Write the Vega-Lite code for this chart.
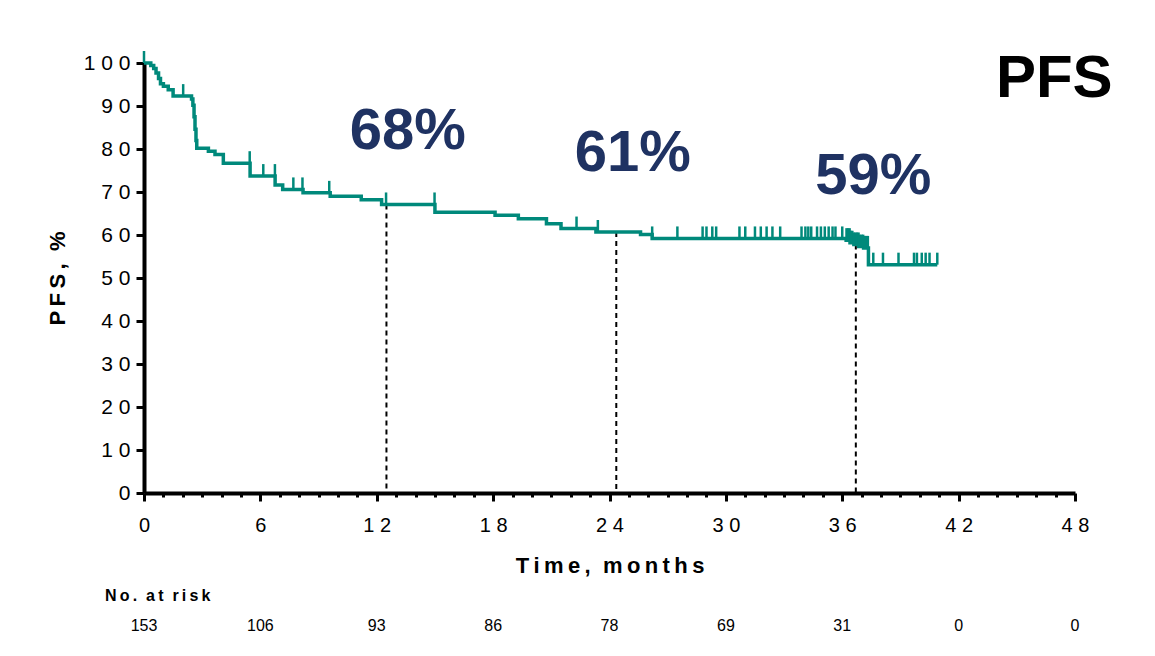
{
  "$schema": "https://vega.github.io/schema/vega-lite/v6.json",
  "background": "white",
  "padding": {"left": 46, "top": 46, "right": 0, "bottom": 0},
  "autosize": {"type": "pad"},
  "spacing": 12,
  "config": {
    "font": "Liberation Sans",
    "view": {"stroke": null},
    "axis": {"grid": false, "labelFont": "Liberation Sans", "titleFont": "Liberation Sans", "labelColor": "black", "titleColor": "black", "domainColor": "black", "tickColor": "black"}
  },
  "datasets": {
    "km": [
      {"t": 0, "s": 100}, {"t": 0.35, "s": 99.4}, {"t": 0.5, "s": 98.7}, {"t": 0.62, "s": 97.7},
      {"t": 0.75, "s": 96.4}, {"t": 0.85, "s": 95.2}, {"t": 1.0, "s": 94.6}, {"t": 1.25, "s": 93.8},
      {"t": 1.5, "s": 92.3}, {"t": 2.45, "s": 91.6}, {"t": 2.52, "s": 90.2}, {"t": 2.58, "s": 87.5},
      {"t": 2.63, "s": 84.6}, {"t": 2.68, "s": 82.0}, {"t": 2.72, "s": 80.2}, {"t": 3.32, "s": 79.5},
      {"t": 3.66, "s": 78.7}, {"t": 4.09, "s": 76.7}, {"t": 5.47, "s": 73.7}, {"t": 6.76, "s": 71.6},
      {"t": 7.15, "s": 70.6}, {"t": 8.2, "s": 69.8}, {"t": 9.6, "s": 69.0}, {"t": 11.2, "s": 68.2},
      {"t": 12.25, "s": 67.1}, {"t": 15.0, "s": 65.3}, {"t": 18.1, "s": 64.6}, {"t": 19.3, "s": 63.8},
      {"t": 20.75, "s": 62.6}, {"t": 21.5, "s": 61.5}, {"t": 23.3, "s": 60.7}, {"t": 25.6, "s": 60.1},
      {"t": 26.2, "s": 59.2}, {"t": 36.2, "s": 58.8}, {"t": 36.4, "s": 58.2}, {"t": 36.6, "s": 57.8},
      {"t": 36.85, "s": 57.3}, {"t": 37.1, "s": 57.0}, {"t": 37.35, "s": 53.1}, {"t": 40.9, "s": 53.1}
    ],
    "cens": [
      {"t": 0, "s": 100}, {"t": 2.02, "s": 92.3}, {"t": 5.45, "s": 76.7}, {"t": 6.15, "s": 73.7},
      {"t": 6.75, "s": 73.7}, {"t": 7.7, "s": 70.6}, {"t": 8.17, "s": 70.6}, {"t": 9.55, "s": 69.8},
      {"t": 12.48, "s": 67.1}, {"t": 14.98, "s": 67.1}, {"t": 22.3, "s": 61.5}, {"t": 23.4, "s": 60.7},
      {"t": 26.2, "s": 59.2}, {"t": 27.5, "s": 59.2}, {"t": 28.8, "s": 59.2}, {"t": 29.0, "s": 59.2},
      {"t": 29.3, "s": 59.2}, {"t": 29.5, "s": 59.2}, {"t": 30.7, "s": 59.2}, {"t": 31.0, "s": 59.2},
      {"t": 31.5, "s": 59.2}, {"t": 31.8, "s": 59.2}, {"t": 32.1, "s": 59.2}, {"t": 32.4, "s": 59.2},
      {"t": 32.8, "s": 59.2}, {"t": 33.9, "s": 59.2}, {"t": 34.1, "s": 59.2}, {"t": 34.25, "s": 59.2},
      {"t": 34.4, "s": 59.2}, {"t": 34.7, "s": 59.2}, {"t": 34.9, "s": 59.2}, {"t": 35.1, "s": 59.2},
      {"t": 35.3, "s": 59.2}, {"t": 35.5, "s": 59.2}, {"t": 35.65, "s": 59.2}, {"t": 36.0, "s": 59.2},
      {"t": 36.22, "s": 58.8}, {"t": 36.3, "s": 58.8}, {"t": 36.38, "s": 58.8}, {"t": 36.45, "s": 58.2},
      {"t": 36.52, "s": 58.2}, {"t": 36.6, "s": 57.8}, {"t": 36.68, "s": 57.8}, {"t": 36.76, "s": 57.8},
      {"t": 36.84, "s": 57.8}, {"t": 36.92, "s": 57.3}, {"t": 37.0, "s": 57.3}, {"t": 37.08, "s": 57.3},
      {"t": 37.16, "s": 57.0}, {"t": 37.24, "s": 57.0}, {"t": 37.32, "s": 57.0},
      {"t": 37.6, "s": 53.1}, {"t": 38.1, "s": 53.1}, {"t": 38.9, "s": 53.1}, {"t": 39.7, "s": 53.1},
      {"t": 39.85, "s": 53.1}, {"t": 40.1, "s": 53.1}, {"t": 40.3, "s": 53.1}, {"t": 40.5, "s": 53.1},
      {"t": 40.9, "s": 53.1}
    ],
    "dash": [
      {"t": 12.5, "s": 67.1}, {"t": 24.35, "s": 60.7}, {"t": 36.7, "s": 57.8}
    ],
    "ann": [
      {"t": 13.6, "s": 84.0, "label": "68%"},
      {"t": 25.2, "s": 78.8, "label": "61%"},
      {"t": 37.6, "s": 73.6, "label": "59%"}
    ],
    "risk": [
      {"t": 0, "n": 153}, {"t": 6, "n": 106}, {"t": 12, "n": 93}, {"t": 18, "n": 86}, {"t": 24, "n": 78},
      {"t": 30, "n": 69}, {"t": 36, "n": 31}, {"t": 42, "n": 0}, {"t": 48, "n": 0}
    ]
  },
  "vconcat": [
    {
      "width": 931,
      "height": 430,
      "layer": [
        {
          "data": {"name": "dash"},
          "mark": {"type": "rule", "color": "black", "strokeWidth": 2, "strokeDash": [5, 4]},
          "encoding": {
            "x": {"field": "t", "type": "quantitative"},
            "y": {"field": "s", "type": "quantitative"},
            "y2": {"datum": 0}
          }
        },
        {
          "data": {"name": "km"},
          "mark": {"type": "line", "interpolate": "step-after", "color": "#00897b", "strokeWidth": 3.5, "clip": false},
          "encoding": {
            "x": {
              "field": "t", "type": "quantitative",
              "scale": {"domain": [0, 48], "nice": false, "zero": false},
              "axis": {
                "values": [0,1,2,3,4,5,6,7,8,9,10,11,12,13,14,15,16,17,18,19,20,21,22,23,24,25,26,27,28,29,30,31,32,33,34,35,36,37,38,39,40,41,42,43,44,45,46,47,48],
                "tickCount": 100,
                "format": "d",
                "labelExpr": "datum.value % 6 === 0 ? join(split(datum.label, ''), ' ') : ''",
                "tickSize": {"condition": {"test": "datum.value % 6 === 0", "value": 8}, "value": 4},
                "tickWidth": 3,
                "domainWidth": 4,
                "labelFontSize": 20,
                "labelPadding": 14,
                "labelFlush": false,
                "labelOverlap": false,
                "title": "T\u2009i\u2009m\u2009e\u2009,\u00a0\u00a0m\u2009o\u2009n\u2009t\u2009h\u2009s",
                "titleFontSize": 22,
                "titleFontWeight": "bold",
                "titlePadding": 20
              }
            },
            "y": {
              "field": "s", "type": "quantitative",
              "scale": {"domain": [0, 100], "nice": false, "zero": true},
              "axis": {
                "values": [0,10,20,30,40,50,60,70,80,90,100],
                "tickCount": 100,
                "format": "d",
                "labelExpr": "join(split(datum.label, ''), ' ')",
                "tickSize": 8,
                "tickWidth": 3,
                "domainWidth": 4,
                "labelFontSize": 21,
                "labelPadding": 6,
                "title": "P\u2009F\u2009S\u2009,\u00a0\u00a0%",
                "titleFontSize": 22,
                "titleFontWeight": "bold",
                "titlePadding": 14
              }
            }
          }
        },
        {
          "data": {"name": "cens"},
          "mark": {"type": "point", "shape": "M0,0V-1", "size": 576, "filled": false, "stroke": "#00897b", "strokeWidth": 2.5, "opacity": 1, "clip": false},
          "encoding": {
            "x": {"field": "t", "type": "quantitative"},
            "y": {"field": "s", "type": "quantitative"}
          }
        },
        {
          "data": {"name": "ann"},
          "mark": {"type": "text", "fontSize": 58, "fontWeight": "bold", "color": "#1f3262", "font": "Liberation Sans"},
          "encoding": {
            "x": {"field": "t", "type": "quantitative"},
            "y": {"field": "s", "type": "quantitative"},
            "text": {"field": "label"}
          }
        },
        {
          "data": {"values": [{}]},
          "mark": {"type": "text", "fontSize": 60, "fontWeight": "bold", "color": "black", "font": "Liberation Sans", "clip": false},
          "encoding": {
            "x": {"datum": 46.93},
            "y": {"datum": 96.2},
            "text": {"value": "PFS"}
          }
        }
      ]
    },
    {
      "width": 931,
      "height": 20,
      "title": {
        "text": "N\u2009o\u2009.\u00a0\u00a0a\u2009t\u00a0\u00a0r\u2009i\u2009s\u2009k",
        "anchor": "start",
        "frame": "group",
        "dx": -39,
        "fontSize": 16,
        "fontWeight": "bold",
        "color": "black",
        "font": "Liberation Sans",
        "offset": 12
      },
      "data": {"name": "risk"},
      "mark": {"type": "text", "fontSize": 16, "color": "black", "font": "Liberation Sans"},
      "encoding": {
        "x": {"field": "t", "type": "quantitative", "scale": {"domain": [0, 48], "nice": false, "zero": false}, "axis": null},
        "text": {"field": "n", "type": "quantitative"}
      }
    }
  ]
}
